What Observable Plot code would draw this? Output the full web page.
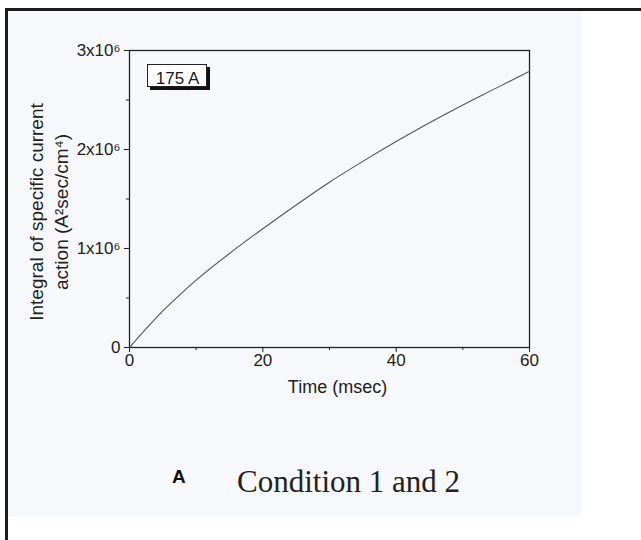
<!DOCTYPE html>
<html>
<head>
<meta charset="utf-8">
<script src="https://cdn.jsdelivr.net/npm/d3@7"></script>
<script src="https://cdn.jsdelivr.net/npm/@observablehq/plot@0.6"></script>
<style>
  html, body { margin: 0; padding: 0; background: #ffffff; }
  #page { position: relative; width: 641px; height: 540px; overflow: hidden; background: #ffffff; }
  #panel { position: absolute; left: 8px; top: 11px; width: 574px; height: 506px; background: #f7f8fb; }
  #borderLeft { position: absolute; left: 5px; top: 8px; width: 3px; height: 540px; background: #1c1c1c; }
  #borderTop { position: absolute; left: 5px; top: 8px; width: 640px; height: 3px; background: #1c1c1c; }
  #chart { position: absolute; left: 0; top: 0; }
  #inset { position: absolute; left: 147px; top: 64px; width: 60px; height: 23px; background: #fff;
           border: 1px solid #222; box-shadow: 3px 3px 0 #111; box-sizing: border-box; }
  #insetText { position: absolute; left: 147px; top: 70px; width: 61px; text-align: center;
               font: 17px/17px "Liberation Sans", Arial, sans-serif; color: #1a1a1a; }
  #capA { position: absolute; left: 172px; top: 467px; font: bold 19px/19px "Liberation Sans", Arial, sans-serif; color: #111; }
  #capText { position: absolute; left: 237px; top: 466px; font: 31px/31px "Liberation Serif", "Times New Roman", serif; color: #222; white-space: nowrap; }
</style>
</head>
<body>
<div id="page">
  <div id="panel"></div>
  <div id="borderLeft"></div>
  <div id="borderTop"></div>
  <div id="chart"></div>
  <div id="inset"></div>
  <div id="insetText"></div>
  <div id="capA"></div>
  <div id="capText"></div>
</div>
<script>
// ---- data ----
const timeMs = [0, 2.5, 5, 7.5, 10, 15, 20, 25, 30, 35, 40, 45, 50, 55, 60];
const actionValues = [0, 0.19e6, 0.37e6, 0.53e6, 0.68e6, 0.95e6, 1.2e6, 1.44e6, 1.67e6, 1.88e6, 2.08e6, 2.27e6, 2.45e6, 2.62e6, 2.79e6];
const xMajorTicks = [0, 20, 40, 60];
const xMinorTicks = [10, 30, 50];
const yMajorTicks = [0, 1e6, 2e6, 3e6];
const yMinorTicks = [0.5e6, 1.5e6, 2.5e6];
const xLabel = "Time (msec)";
const yLabel = "Integral of specific current\naction (A²sec/cm⁴)";
const insetLabel = "175 A";
const panelLetter = "A";
const captionText = "Condition 1 and 2";

const data = timeMs.map((t, i) => ({t, v: actionValues[i]}));
const yFmt = d => d === 0 ? "0" : `${d / 1e6}x10⁶`;

const chart = Plot.plot({
  width: 641,
  height: 420,
  marginLeft: 129,
  marginRight: 112,
  marginTop: 50,
  marginBottom: 73,
  x: {domain: [0, 60]},
  y: {domain: [0, 3e6]},
  style: {background: "transparent", fontFamily: "'Liberation Sans', Arial, sans-serif", fontSize: "17px", color: "#222", overflow: "visible"},
  marks: [
    Plot.frame({stroke: "#222", strokeWidth: 1.3}),
    Plot.axisX({ticks: xMajorTicks, tickSize: 5, tickPadding: 1, fontSize: 17, label: null, tickFormat: d => String(d)}),
    Plot.axisX({ticks: xMinorTicks, tickSize: 3, label: null, tickFormat: () => ""}),
    Plot.axisY({ticks: yMajorTicks, tickSize: 5, tickPadding: 4, fontSize: 17, label: null, tickFormat: yFmt}),
    Plot.axisY({ticks: yMinorTicks, tickSize: 3, label: null, tickFormat: () => ""}),
    Plot.line(data, {x: "t", y: "v", stroke: "#555", strokeWidth: 1.1, curve: "monotone-x"}),
    Plot.text([xLabel], {text: d => d, frameAnchor: "bottom", textAnchor: "middle", lineAnchor: "middle", dx: 8, dy: 40, fontSize: 18}),
    Plot.text([yLabel], {text: d => d, frameAnchor: "left", textAnchor: "middle", lineAnchor: "middle", rotate: -90, dx: -82, dy: 13, fontSize: 19, lineHeight: 1.3})
  ]
});
document.getElementById("chart").appendChild(chart);
document.getElementById("insetText").textContent = insetLabel;
document.getElementById("capA").textContent = panelLetter;
document.getElementById("capText").textContent = captionText;
</script>
</body>
</html>
